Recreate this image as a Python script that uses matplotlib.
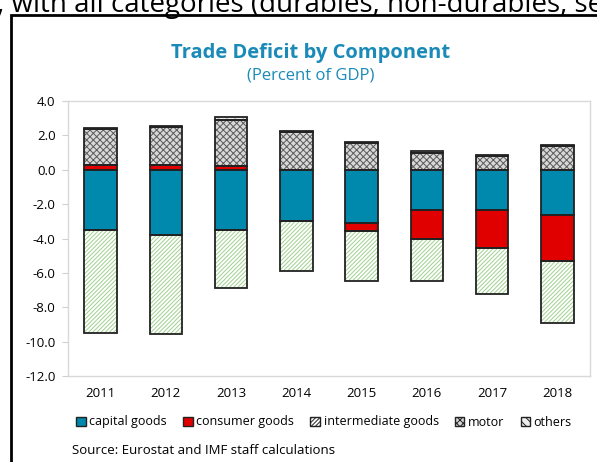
import matplotlib
matplotlib.use("Agg")
import matplotlib.pyplot as plt
import numpy as np
from matplotlib.patches import Rectangle, Patch

plt.rcParams['font.family'] = ['Open Sans', 'DejaVu Sans']
plt.rcParams['hatch.linewidth'] = 0.7

# trade deficit components, percent of GDP
years = ['2011', '2012', '2013', '2014', '2015', '2016', '2017', '2018']
capital = [-3.48, -3.81, -3.52, -2.96, -3.07, -2.37, -2.37, -2.66]
consumer = [0.27, 0.25, 0.19, 0.0, -0.51, -1.67, -2.18, -2.67]
intermediate = [-5.99, -5.77, -3.34, -2.93, -2.87, -2.41, -2.68, -3.57]
motor = [2.13, 2.22, 2.68, 2.17, 1.58, 0.99, 0.80, 1.37]
others = [0.05, 0.08, 0.20, 0.06, 0.05, 0.08, 0.05, 0.05]
yticks = [4, 2, 0, -2, -4, -6, -8, -10, -12]

series = [
    ('capital goods', capital, '#0089ad', None, '#0089ad'),
    ('consumer goods', consumer, '#e00000', None, '#e00000'),
    ('intermediate goods', intermediate, 'white', '////////', '#9fd08f'),
    ('motor', motor, '#d8d8d8', 'xxxxx', '#5a5a5a'),
    ('others', others, '#eeeeee', '\\\\\\\\', '#b0b0b0'),
]

fig = plt.figure(figsize=(5.97, 4.62), dpi=100)
ax = fig.add_axes([68 / 597, 1 - 376 / 462, 522 / 597, 275 / 462])

x = np.arange(len(years))
width = 0.5
pos = np.zeros(len(years))
neg = np.zeros(len(years))
handles = []
for name, vals, fc, hatch, hc in series:
    v = np.array(vals)
    bottom = np.where(v >= 0, pos, neg)
    ax.bar(x, v, width, bottom=bottom, color=fc, hatch=hatch,
           edgecolor=hc, linewidth=0, zorder=2)
    ax.bar(x, v, width, bottom=bottom, fill=False,
           edgecolor='#222222', linewidth=1.3, zorder=3)
    pos = pos + np.where(v >= 0, v, 0)
    neg = neg + np.where(v < 0, v, 0)
    handles.append(Patch(facecolor=fc, hatch=hatch, edgecolor='#222222', label=name))

ax.set_xlim(-0.5, 7.5)
ax.set_ylim(-12, 4)
ax.set_yticks(yticks)
ax.set_yticklabels([f'{t:.1f}' for t in yticks])
ax.set_xticks(x)
ax.set_xticklabels(years)
ax.tick_params(axis='x', length=0, pad=8, labelsize=9.5)
ax.tick_params(axis='y', length=4, color='#d0d0d0', pad=5, labelsize=9.5)
for s in ax.spines.values():
    s.set_color('#d9d9d9')
    s.set_linewidth(1)

fig.legend(handles=handles, loc='center', bbox_to_anchor=(324 / 597, 1 - 422 / 462),
           ncol=5, frameon=False, fontsize=9, handlelength=0.75, handleheight=0.75,
           handletextpad=0.3, columnspacing=1.3)

fig.text(311 / 597, 1 - 53 / 462, 'Trade Deficit by Component', ha='center', va='center',
         fontsize=14.5, fontweight='bold', color='#1a8ab8')
fig.text(311 / 597, 1 - 76 / 462, '(Percent of GDP)', ha='center', va='center',
         fontsize=12, color='#1a8ab8')
fig.text(72 / 597, 1 - 450 / 462, 'Source: Eurostat and IMF staff calculations',
         ha='left', va='center', fontsize=9.5)

# surrounding text line and panel frame
fig.text(-10 / 597, 1 - 12 / 462, 'l, with all categories (durables, non-durables, ser',
         ha='left', va='baseline', fontsize=20)
fig.patches.append(Rectangle((11 / 597, -0.05), 1.0, 1.05 - 15 / 462, transform=fig.transFigure,
                             fill=False, edgecolor='black', linewidth=2))

fig.savefig('out.png', dpi=100)
